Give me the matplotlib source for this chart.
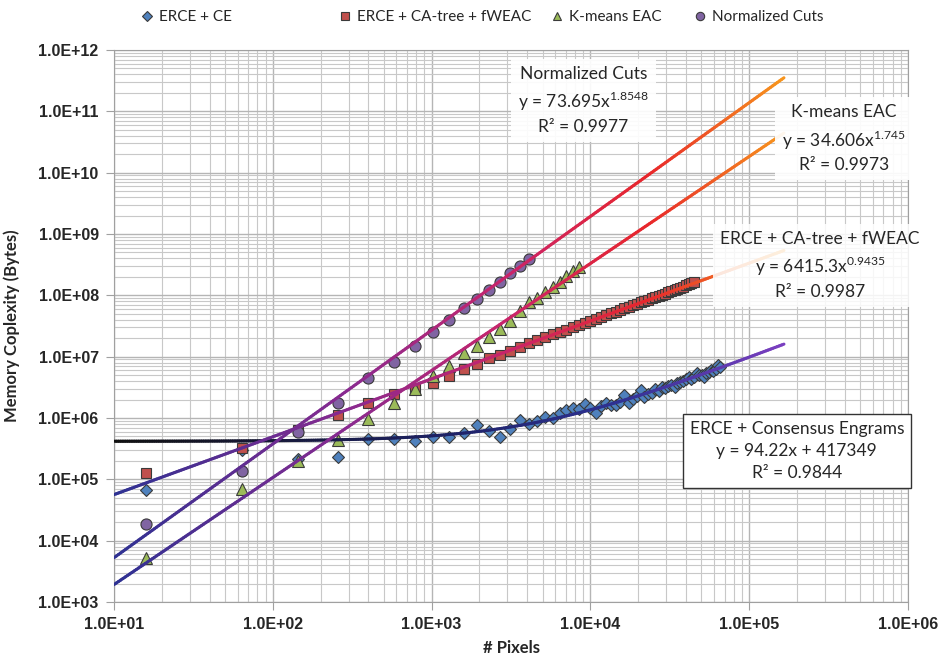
import numpy as np
import matplotlib
matplotlib.use("Agg")
import matplotlib.pyplot as plt
from matplotlib.collections import LineCollection
from matplotlib.colors import LinearSegmentedColormap
from matplotlib.ticker import FuncFormatter, LogLocator, NullFormatter

plt.rcParams['font.family'] = ['Lato', 'DejaVu Sans']

# image side length (pixels = side^2)
image_side = [4, 8, 12, 16, 20, 24, 28, 32, 36, 40, 44, 48, 52, 56, 60, 64,
              68, 72, 76, 80, 84, 88, 92, 96, 100, 104, 108, 112, 116, 120, 124, 128,
              132, 136, 140, 144, 148, 152, 156, 160, 164, 168, 172, 176, 180, 184, 188, 192,
              196, 200, 204, 208, 212, 216, 220, 224, 228, 232, 236, 240, 244, 248, 252, 256]

# memory (bytes)
mem_ce = [6.64e4, 3.0e5, 2.13e5, 2.30e5, 4.51e5, 4.51e5, 4.19e5, 4.86e5, 4.86e5, 5.65e5,
          7.63e5, 6.09e5, 4.86e5, 6.56e5, 9.2e5, 7.92e5, 8.87e5, 1.03e6, 9.93e5, 1.20e6,
          1.34e6, 1.44e6, 1.39e6, 1.68e6, 1.44e6, 1.20e6, 1.55e6, 1.74e6, 1.62e6, 1.60e6,
          1.85e6, 2.35e6, 1.74e6, 2.05e6, 2.25e6, 2.84e6, 2.18e6, 2.45e6, 2.60e6, 2.95e6,
          2.80e6, 3.18e6, 3.05e6, 3.30e6, 3.45e6, 3.20e6, 3.70e6, 3.84e6, 3.95e6, 4.30e6,
          4.63e6, 4.35e6, 4.70e6, 5.38e6, 4.95e6, 5.10e6, 4.70e6, 5.45e6, 5.70e6, 6.03e6,
          5.90e6, 6.30e6, 7.27e6, 6.90e6]
mem_catree = [1.26e5, 3.21e5, 6.32e5, 1.11e6, 1.74e6, 2.44e6, 2.95e6, 3.70e6, 4.81e6, 6.25e6,
              7.55e6, 9.46e6, 1.06e7, 1.23e7, 1.43e7, 1.66e7, 1.86e7, 2.07e7, 2.30e7, 2.53e7,
              2.77e7, 3.03e7, 3.29e7, 3.57e7, 3.85e7, 4.15e7, 4.46e7, 4.77e7, 5.10e7, 5.44e7,
              5.78e7, 6.14e7, 6.51e7, 6.88e7, 7.27e7, 7.67e7, 8.07e7, 8.49e7, 8.92e7, 9.36e7,
              9.80e7, 1.03e8, 1.07e8, 1.12e8, 1.17e8, 1.22e8, 1.28e8, 1.34e8, 1.39e8, 1.46e8,
              1.52e8, 1.58e8, 1.64e8]
mem_kmeans = [5.16e3, 6.89e4, 1.97e5, 4.34e5, 9.55e5, 1.74e6, 2.95e6, 4.81e6, 7.0e6, 1.14e7,
              1.48e7, 2.08e7, 2.81e7, 3.79e7, 5.52e7, 7.74e7, 9.0e7, 1.13e8, 1.36e8, 1.64e8,
              2.06e8, 2.48e8, 2.88e8]
mem_ncuts = [1.85e4, 1.36e5, 5.87e5, 1.74e6, 4.46e6, 8.13e6, 1.48e7, 2.51e7, 3.94e7, 6.18e7,
             8.67e7, 1.22e8, 1.64e8, 2.30e8, 2.99e8, 3.90e8]

# trend line coefficients shown in the chart
ncuts_fit = (73.695, 1.8548)
kmeans_fit = (34.606, 1.745)
catree_fit = (6415.3, 0.9435)
ce_fit = (94.22, 417349)
trend_end = 1.655e5

side = np.array(image_side, dtype=float)
px = side ** 2

fig = plt.figure(figsize=(9.47, 6.61), dpi=100)
ax = fig.add_axes([114/947, 1-602/661, 794/947, 552/661])
ax.set_xscale('log')
ax.set_yscale('log')
ax.set_xlim(1e1, 1e6)
ax.set_ylim(1e3, 1e12)

ax.yaxis.set_major_locator(LogLocator(base=10, numticks=20))
ax.yaxis.set_minor_locator(LogLocator(base=10, subs=np.arange(2, 10), numticks=20))
ax.xaxis.set_major_locator(LogLocator(base=10, numticks=20))
ax.xaxis.set_minor_locator(LogLocator(base=10, subs=np.arange(2, 10), numticks=20))
fmt = FuncFormatter(lambda v, p: f"{v:.1E}")
ax.xaxis.set_major_formatter(fmt)
ax.yaxis.set_major_formatter(fmt)
ax.xaxis.set_minor_formatter(NullFormatter())
ax.yaxis.set_minor_formatter(NullFormatter())
ax.grid(True, which='major', color='#b5b5b5', lw=1.0, zorder=0)
ax.grid(True, which='minor', color='#c8c8c8', lw=0.8, zorder=0)
ax.set_axisbelow(True)
for s in ax.spines.values():
    s.set_color('#a0a0a0')
ax.tick_params(which='major', direction='out', length=6, color='#a0a0a0', pad=5)
ax.tick_params(which='minor', length=0)
for lab in ax.get_xticklabels() + ax.get_yticklabels():
    lab.set_family(['Liberation Sans', 'DejaVu Sans'])
    lab.set_fontweight('bold')
    lab.set_fontsize(11.5)
    lab.set_color('#262626')

mk = dict(markeredgecolor='#3a3a3a', markeredgewidth=0.8, linestyle='none', zorder=3)
h1, = ax.plot(px[:len(mem_ce)], mem_ce, marker='D', ms=6.5, color='#4F81BD', **mk)
h2, = ax.plot(px[:len(mem_catree)], mem_catree, marker='s', ms=7.5, color='#C0504D', **mk)
h3, = ax.plot(px[:len(mem_kmeans)], mem_kmeans, marker='^', ms=8, color='#9BBB59', **mk)
h4, = ax.plot(px[:len(mem_ncuts)], mem_ncuts, marker='o', ms=8, color='#8064A2', **mk)

warm = LinearSegmentedColormap.from_list('warm', [(0, '#2E3192'), (0.35, '#8A2A90'),
                                                  (0.6, '#CC2468'), (0.8, '#E8262B'),
                                                  (1.0, '#F7941D')])
cool = LinearSegmentedColormap.from_list('cool', [(0, '#111111'), (0.5, '#1E2266'),
                                                  (0.75, '#2E3192'), (1.0, '#7A3FC0')])

xt = np.logspace(1, np.log10(trend_end), 300)


def gradient_line(y, cmap):
    pts = np.column_stack([xt, y])
    segs = np.stack([pts[:-1], pts[1:]], axis=1)
    t = np.linspace(0, 1, len(segs))
    lc = LineCollection(segs, colors=cmap(t), linewidths=2.2, zorder=4, capstyle='round')
    ax.add_collection(lc)


gradient_line(ce_fit[0] * xt + ce_fit[1], cool)
gradient_line(catree_fit[0] * xt ** catree_fit[1], warm)
gradient_line(kmeans_fit[0] * xt ** kmeans_fit[1], warm)
gradient_line(ncuts_fit[0] * xt ** ncuts_fit[1], warm)

tf = dict(transform=ax.transAxes, ha='center', va='center', fontsize=12.5,
          color='#262626', linespacing=1.45, zorder=6)
ax.text(0.591, 0.909, 'Normalized Cuts\ny = 73.695x$^{\\mathregular{1.8548}}$\nR² = 0.9977',
        bbox=dict(facecolor='white', edgecolor='none', alpha=0.92, pad=5), **tf)
ax.text(0.919, 0.839, 'K-means EAC\ny = 34.606x$^{\\mathregular{1.745}}$\nR² = 0.9973',
        bbox=dict(facecolor='white', edgecolor='none', alpha=0.92, pad=5), **tf)
ax.text(0.889, 0.610, 'ERCE + CA-tree + fWEAC\ny = 6415.3x$^{\\mathregular{0.9435}}$\nR² = 0.9987',
        bbox=dict(facecolor='white', edgecolor='none', alpha=0.85, pad=5), **tf)
ax.text(0.860, 0.274, 'ERCE + Consensus Engrams\ny = 94.22x + 417349\nR² = 0.9844',
        bbox=dict(facecolor='white', edgecolor='#333333', lw=1, pad=5), **tf)

ax.set_xlabel('# Pixels', fontsize=12, fontweight='bold', color='#262626')
ax.xaxis.set_label_coords(0.5, -0.068)
ax.set_ylabel('Memory Coplexity (Bytes)', fontsize=12, fontweight='bold', color='#262626')
ax.yaxis.set_label_coords(-0.118, 0.5)

# legend entries placed along the top like the original
legend_items = [(h1, 'ERCE + CE', 139), (h2, 'ERCE + CA-tree + fWEAC', 337),
                (h3, 'K-means EAC', 549), (h4, 'Normalized Cuts', 692)]
for h, name, xpix in legend_items:
    fig.legend([h], [name], loc='center left', bbox_to_anchor=(xpix/947, 1-17/661),
               frameon=False, fontsize=11, handletextpad=0.3, handlelength=1.0,
               borderpad=0, borderaxespad=0, markerscale=0.75, labelcolor='#262626')

fig.savefig('out.png', dpi=100)
